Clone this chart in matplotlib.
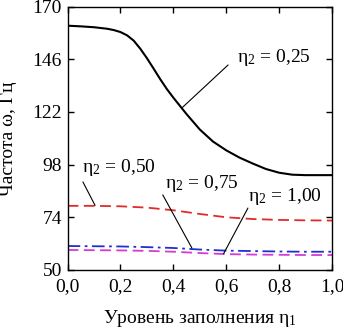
import matplotlib
matplotlib.use("Agg")
import matplotlib.pyplot as plt
from matplotlib.ticker import FuncFormatter

plt.rcParams['font.family'] = ['Liberation Serif', 'DejaVu Serif']
plt.rcParams['mathtext.fontset'] = 'custom'
plt.rcParams['mathtext.rm'] = 'Liberation Serif'
plt.rcParams['mathtext.it'] = 'Liberation Serif'

x_black = [0.0, 0.05, 0.1, 0.15, 0.175, 0.2, 0.225, 0.25, 0.275, 0.3, 0.325, 0.35, 0.375,
           0.4, 0.45, 0.5, 0.55, 0.6, 0.65, 0.7, 0.75, 0.8, 0.85, 0.9, 0.95, 1.0]
y_025 = [161.3, 161.0, 160.6, 159.9, 159.3, 158.4, 156.9, 154.5, 150.8, 146.5, 141.8, 137.0, 132.5,
         128.5, 121.0, 114.0, 108.5, 104.5, 101.2, 98.5, 96.0, 94.3, 93.4, 93.2, 93.2, 93.2]

x_col = [0.0, 0.1, 0.2, 0.3, 0.4, 0.5, 0.6, 0.7, 0.8, 0.9, 1.0]
y_050 = [79.2, 79.2, 79.0, 78.4, 77.2, 75.5, 74.0, 73.2, 72.8, 72.6, 72.5]
y_075 = [60.9, 60.8, 60.7, 60.4, 60.0, 59.3, 58.8, 58.6, 58.4, 58.3, 58.3]
y_100 = [59.1, 59.0, 58.9, 58.7, 58.3, 57.7, 57.2, 57.0, 56.9, 56.8, 56.8]

x_ticks = [0.0, 0.2, 0.4, 0.6, 0.8, 1.0]
y_ticks = [50, 74, 98, 122, 146, 170]

fig = plt.figure(figsize=(3.43, 3.30), dpi=100)
ax = fig.add_axes([0.197, 0.182, 0.771, 0.798])

ax.plot(x_black, y_025, color='black', lw=1.5)
ax.plot(x_col, y_050, color='#e32a2a', lw=1.3, ls=(0, (6, 3)))
ax.plot(x_col, y_075, color='#1f2fd0', lw=1.3, ls=(0, (7, 2.5, 1.5, 2.5)))
ax.plot(x_col, y_100, color='#d43ad8', lw=1.3, ls=(0, (6, 3)))

ax.set_xlim(0, 1)
ax.set_ylim(50, 170)
ax.set_xticks(x_ticks)
ax.set_yticks(y_ticks)
ax.xaxis.set_major_formatter(FuncFormatter(lambda v, p: f"{v:.1f}".replace('.', ',')))
ax.tick_params(direction='in', length=4, width=1, top=True, right=True, labelsize=14)
ax.tick_params(axis='x', pad=6)
ax.tick_params(axis='y', pad=4)
for s in ax.spines.values():
    s.set_linewidth(1.0)

ax.set_xlabel('Уровень заполнения η$_1$', fontsize=14)
ax.set_ylabel('Частота ω, Гц', fontsize=14)
ax.xaxis.set_label_coords(0.5, -0.145)
ax.yaxis.set_label_coords(-0.19, 0.5)

fs = 14
labels = ['η$_2$ = 0,25', 'η$_2$ = 0,50', 'η$_2$ = 0,75', 'η$_2$ = 1,00']
text_pos = [(0.64, 146.8), (0.055, 96.5), (0.368, 89.6), (0.682, 83.3)]
line_start = [(0.607, 143.4), (0.058, 90.1), (0.36, 84.2), (0.682, 78.2)]
line_end = [(0.432, 123.8), (0.104, 79.4), (0.47, 60.0), (0.59, 57.4)]

for lab, tp, ls_, le in zip(labels, text_pos, line_start, line_end):
    ax.text(tp[0], tp[1], lab, fontsize=fs, va='center', ha='left')
    ax.annotate('', xy=le, xytext=ls_,
                arrowprops=dict(arrowstyle='-', lw=0.8, color='black', shrinkA=0, shrinkB=0))

fig.savefig('out.png', dpi=100)
